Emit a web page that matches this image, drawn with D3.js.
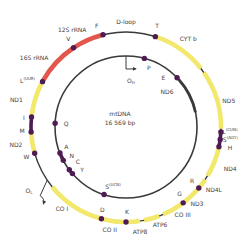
<!DOCTYPE html>
<html>
<head>
<meta charset="utf-8">
<script src="https://cdn.jsdelivr.net/npm/d3@7"></script>
<style>
  body { margin: 0; background: #fff; }
  svg { display: block; }
  text { font-family: "DejaVu Sans", sans-serif; }
</style>
</head>
<body>
<svg width="240" height="248"></svg>
<script>
// map positions, in degrees clockwise from the top
// (the schematic is not drawn to scale, so bp positions are not used)
const outerGenes = ['12S rRNA', '16S rRNA', 'ND1', 'ND2', 'CO I', 'CO II', 'ATP8', 'ATP6', 'CO III', 'ND3', 'ND4L', 'ND4', 'ND5', 'CYT b']
const outerStart = [-15, -34, -63, -94, -129, -166, 171.5, 159.5, 144, 131, 123.5, 103, 55, 19]
const outerEnd = [-33, -61, -82.5, -105, -164, -179, 179, 169, 157, 142, 129, 121, 91, 52]
const outerKind = ['rRNA', 'rRNA', 'prot', 'prot', 'prot', 'prot', 'prot', 'prot', 'prot', 'prot', 'prot', 'prot', 'prot', 'prot']

const innerGenes = ['ND6']
const innerStart = [48]
const innerEnd = [78]

const trnaOuter = ['F', 'V', 'L^UUR', 'I', 'M', 'W', 'D', 'K', 'G', 'R', 'H', 'S^AGY', 'L^CUN', 'T']
const trnaOuterAt = [-14, -33.5, -61.5, -84, -93, -106, -165, 180, 143, 130, 102, 97.5, 93, 18]
const trnaInner = ['P', 'E', 'Q', 'A', 'N', 'C', 'Y', 'S^UCN']
const trnaInnerAt = [15, 46, -87, -111.5, -118, -127, -131, -162]

// tRNA clusters drawn as a solid bar
const clusterOuter = [['I', 'M'], ['L^CUN', 'H']]
const clusterInner = [['A', 'N'], ['C', 'Y']]

const centerLines = ['mtDNA', '16 569 bp']

const svg = d3.select('svg')
const cx = 126, cy = 127
const R = 95, r = 71
const ang = d3.scaleLinear().domain([-180, 180]).range([-Math.PI, Math.PI])
const pt = (a, rad) => [cx + rad * Math.sin(ang(a)), cy - rad * Math.cos(ang(a))]

const color = { rRNA: '#e2564b', prot: '#f1e86c' }
const dark = '#3a3a3a'
const purple = '#4e1b52'

const g = svg.append('g')

// base circles
g.append('circle').attr('cx', cx).attr('cy', cy).attr('r', R)
  .attr('fill', 'none').attr('stroke', dark).attr('stroke-width', 1.4)
g.append('circle').attr('cx', cx).attr('cy', cy).attr('r', r)
  .attr('fill', 'none').attr('stroke', dark).attr('stroke-width', 1.6)

const arc = d3.arc()
const ring = g.append('g').attr('transform', `translate(${cx},${cy})`)

ring.selectAll('path.gene')
  .data(outerGenes.map((name, i) => ({ name, s: outerStart[i], e: outerEnd[i], kind: outerKind[i] })))
  .join('path')
  .attr('class', 'gene')
  .attr('fill', d => color[d.kind])
  .attr('d', d => arc({
    innerRadius: R - 2.3, outerRadius: R + 2.3,
    startAngle: ang(Math.min(d.s, d.e)), endAngle: ang(Math.max(d.s, d.e))
  }))

ring.selectAll('path.igene')
  .data(innerGenes.map((name, i) => ({ name, s: innerStart[i], e: innerEnd[i] })))
  .join('path')
  .attr('class', 'igene')
  .attr('fill', dark)
  .attr('d', d => arc({
    innerRadius: r - 1.4, outerRadius: r + 1.4,
    startAngle: ang(d.s), endAngle: ang(d.e)
  }))

// clusters
const outerAt = new Map(trnaOuter.map((n, i) => [n, trnaOuterAt[i]]))
const innerAt = new Map(trnaInner.map((n, i) => [n, trnaInnerAt[i]]))
const clusters = clusterOuter.map(c => ({ a: outerAt.get(c[0]), b: outerAt.get(c[1]), rad: R }))
  .concat(clusterInner.map(c => ({ a: innerAt.get(c[0]), b: innerAt.get(c[1]), rad: r })))
ring.selectAll('path.cluster')
  .data(clusters)
  .join('path')
  .attr('class', 'cluster')
  .attr('fill', purple)
  .attr('d', d => arc({
    innerRadius: d.rad - 1.8, outerRadius: d.rad + 1.8,
    startAngle: ang(Math.min(d.a, d.b)), endAngle: ang(Math.max(d.a, d.b))
  }))

// tRNA dots
const dots = trnaOuter.map((n, i) => ({ a: trnaOuterAt[i], rad: R }))
  .concat(trnaInner.map((n, i) => ({ a: trnaInnerAt[i], rad: r })))
g.selectAll('circle.trna')
  .data(dots)
  .join('circle')
  .attr('class', 'trna')
  .attr('cx', d => pt(d.a, d.rad)[0])
  .attr('cy', d => pt(d.a, d.rad)[1])
  .attr('r', 2.7)
  .attr('fill', purple)

// replication origins
svg.append('defs').append('marker')
  .attr('id', 'head').attr('viewBox', '0 0 6 6')
  .attr('refX', 5).attr('refY', 3)
  .attr('markerWidth', 4).attr('markerHeight', 4)
  .attr('orient', 'auto')
  .append('path').attr('d', 'M0,0L6,3L0,6Z').attr('fill', dark)

const ohA = pt(0, r), ohB = pt(0, 58), ohC = pt(9.8, 59)
g.append('path')
  .attr('d', `M${ohA}L${ohB}L${ohC}`)
  .attr('fill', 'none').attr('stroke', dark).attr('stroke-width', 1)
  .attr('marker-end', 'url(#head)')

const olA = pt(-124, R), olB = pt(-128.7, 110), olC = pt(-133, 113)
g.append('path')
  .attr('d', `M${olA}L${olB}Q${pt(-131.5, 108)} ${olC}`)
  .attr('fill', 'none').attr('stroke', dark).attr('stroke-width', 1)
  .attr('marker-end', 'url(#head)')

// label placement (angle, radius)
const labelPos = {
  'D-loop': [0, 106], '12S rRNA': [-29, 111], 'F': [-16, 106], 'V': [-33, 106],
  '16S rRNA': [-53, 115], 'L^UUR': [-64.5, 109], 'ND1': [-76, 113], 'I': [-84.5, 102.5],
  'M': [-92, 104], 'ND2': [-99, 111.5], 'W': [-106.7, 104], 'O_L': [-123, 115.7],
  'CO I': [-142, 104], 'D': [-164, 86], 'CO II': [-171, 104], 'K': [179.3, 85],
  'ATP8': [172.3, 105], 'ATP6': [160.7, 103], 'CO III': [147, 104], 'G': [141, 85],
  'ND3': [137, 104], 'R': [129, 85], 'ND4L': [125.6, 108], 'ND4': [111.5, 112],
  'L^CUN': [92.2, 104], 'S^AGY': [96.6, 105], 'H': [100.9, 106], 'ND5': [75.8, 106],
  'CYT b': [35, 108.5], 'T': [17, 106.6],
  'P': [21, 64], 'E': [37, 62], 'ND6': [49.5, 54], 'Q': [-87, 60], 'A': [-108.4, 63],
  'N': [-117.4, 61], 'C': [-126, 59.4], 'Y': [-134.3, 61.5], 'S^UCN': [-167.6, 60.4],
  'O_H': [6, 47]
}

const names = ['D-loop'].concat(outerGenes, innerGenes, trnaOuter, trnaInner, ['O_H', 'O_L'])
const lab = g.selectAll('text.lab')
  .data(names.filter(n => labelPos[n]))
  .join('text')
  .attr('class', 'lab')
  .attr('x', d => pt(...labelPos[d])[0])
  .attr('y', d => pt(...labelPos[d])[1])
  .attr('text-anchor', 'middle')
  .attr('dominant-baseline', 'central')
  .attr('font-size', 6)
  .attr('fill', '#444')

lab.each(function (d) {
  const t = d3.select(this)
  const m = d.match(/^([^\^_]+)([\^_])(.+)$/)
  if (!m) { t.text(d); return }
  t.append('tspan').text(m[1])
  t.append('tspan')
    .attr('font-size', 4)
    .attr('dy', m[2] === '^' ? -2 : 1.5)
    .text(m[2] === '^' ? `(${m[3]})` : m[3])
})

g.selectAll('text.center')
  .data(centerLines)
  .join('text')
  .attr('class', 'center')
  .attr('x', 120)
  .attr('y', (d, i) => 113 + i * 9.5)
  .attr('text-anchor', 'middle')
  .attr('dominant-baseline', 'central')
  .attr('font-size', 6)
  .attr('fill', '#444')
  .text(d => d)
</script>
</body>
</html>
